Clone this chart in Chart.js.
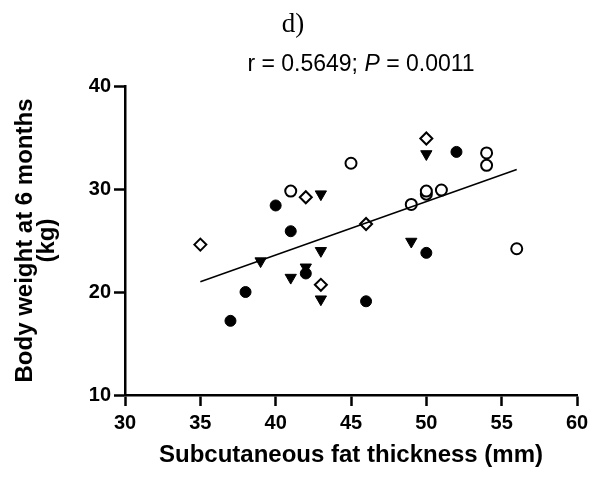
<!DOCTYPE html>
<html>
<head>
<meta charset="utf-8">
<script src="https://cdn.jsdelivr.net/npm/chart.js@4.4.1/dist/chart.umd.min.js"></script>
<style>
  html, body { margin: 0; padding: 0; background: #fff; }
  #wrap { width: 605px; height: 478px; }
</style>
</head>
<body>
<div id="wrap"><canvas id="chart" width="605" height="478"></canvas></div>
<script>
const panelLabel = "d)";
const rValue = "0.5649";
const pValue = "0.0011";
const xAxisTitle = "Subcutaneous fat thickness (mm)";
const yAxisTitle = ["Body weight at 6 months", "(kg)"];

const xTicks = [30, 35, 40, 45, 50, 55, 60];
const yTicks = [10, 20, 30, 40];

// filled circles
const filledCircleX = [37, 38, 40, 41, 42, 46, 50, 52];
const filledCircleY = [17.2, 20.0, 28.4, 25.9, 21.8, 19.1, 23.8, 33.6];
// open circles
const openCircleX = [41, 45, 49, 50, 50, 51, 54, 54, 56];
const openCircleY = [29.8, 32.5, 28.5, 29.5, 29.8, 29.9, 33.5, 32.3, 24.2];
// open diamonds
const diamondX = [35, 42, 43, 46, 50];
const diamondY = [24.6, 29.2, 20.7, 26.6, 34.9];
// filled down triangles
const triangleX = [39, 41, 42, 43, 43, 43, 49, 50];
const triangleY = [23.0, 21.4, 22.4, 29.5, 24.0, 19.3, 24.9, 33.4];
// regression line end points
const fitX = [35, 56];
const fitY = [21.0, 31.9];

const toPoints = (xs, ys) => xs.map((x, i) => ({ x, y: ys[i] }));

const headerPlugin = {
  id: "header",
  afterDraw(chart) {
    const ctx = chart.ctx;
    ctx.save();
    ctx.fillStyle = "#000";
    ctx.textBaseline = "alphabetic";
    ctx.textAlign = "left";
    ctx.font = '27px "Liberation Serif"';
    const w0 = ctx.measureText(panelLabel).width;
    ctx.fillText(panelLabel, 293 - w0 / 2, 32);

    const regular = '23px "Liberation Sans"';
    const italic = 'italic 23px "Liberation Sans"';
    const parts = [
      { text: "r = " + rValue + "; ", font: regular },
      { text: "P", font: italic },
      { text: " = " + pValue, font: regular },
    ];
    let total = 0;
    for (const part of parts) {
      ctx.font = part.font;
      part.width = ctx.measureText(part.text).width;
      total += part.width;
    }
    let x = 361 - total / 2;
    for (const part of parts) {
      ctx.font = part.font;
      ctx.fillText(part.text, x, 71);
      x += part.width;
    }
    ctx.restore();
  },
};

const tickFont = { family: "Liberation Sans", size: 20, weight: "bold" };

new Chart(document.getElementById("chart"), {
  type: "scatter",
  data: {
    datasets: [
      {
        type: "line",
        label: "Fit",
        data: toPoints(fitX, fitY),
        borderColor: "#000",
        borderWidth: 1.5,
        pointRadius: 0,
        fill: false,
      },
      {
        label: "Open circles",
        data: toPoints(openCircleX, openCircleY),
        pointStyle: "circle",
        pointRadius: 5.5,
        backgroundColor: "#fff",
        borderColor: "#000",
        borderWidth: 2,
      },
      {
        label: "Diamonds",
        data: toPoints(diamondX, diamondY),
        pointStyle: "rectRot",
        pointRadius: 6,
        backgroundColor: "#fff",
        borderColor: "#000",
        borderWidth: 2,
      },
      {
        label: "Filled circles",
        data: toPoints(filledCircleX, filledCircleY),
        pointStyle: "circle",
        pointRadius: 5.5,
        backgroundColor: "#000",
        borderColor: "#000",
        borderWidth: 1,
      },
      {
        label: "Triangles",
        data: toPoints(triangleX, triangleY),
        pointStyle: "triangle",
        rotation: 180,
        pointRadius: 6.5,
        backgroundColor: "#000",
        borderColor: "#000",
        borderWidth: 1,
      },
    ],
  },
  options: {
    responsive: false,
    animation: false,
    layout: { padding: { top: 86, right: 28, left: 0, bottom: 0 } },
    plugins: {
      legend: { display: false },
      tooltip: { enabled: false },
      title: { display: false },
    },
    scales: {
      x: {
        type: "linear",
        min: 30,
        max: 60,
        afterBuildTicks: (scale) => {
          scale.ticks = xTicks.map((value) => ({ value }));
        },
        afterFit: (scale) => {
          scale.height = 83;
        },
        border: { display: true, color: "#000", width: 2.5 },
        grid: {
          drawOnChartArea: false,
          drawTicks: true,
          tickLength: 11,
          tickWidth: 2.5,
          tickColor: "#000",
        },
        ticks: { color: "#000", font: tickFont, padding: 5 },
        title: {
          display: true,
          text: xAxisTitle,
          color: "#000",
          font: { family: "Liberation Sans", size: 24, weight: "bold" },
          padding: { top: 2, bottom: 8 },
        },
      },
      y: {
        type: "linear",
        min: 10,
        max: 40,
        afterBuildTicks: (scale) => {
          scale.ticks = yTicks.map((value) => ({ value }));
        },
        afterFit: (scale) => {
          scale.width = 125;
        },
        border: { display: true, color: "#000", width: 2.5 },
        grid: {
          drawOnChartArea: false,
          drawTicks: true,
          tickLength: 11,
          tickWidth: 2.5,
          tickColor: "#000",
        },
        ticks: { color: "#000", font: tickFont, padding: 3 },
        title: {
          display: true,
          text: yAxisTitle,
          color: "#000",
          font: { family: "Liberation Sans", size: 24, weight: "bold", lineHeight: 0.92 },
          padding: { top: 14, bottom: 0 },
        },
      },
    },
  },
  plugins: [headerPlugin],
});
</script>
</body>
</html>
